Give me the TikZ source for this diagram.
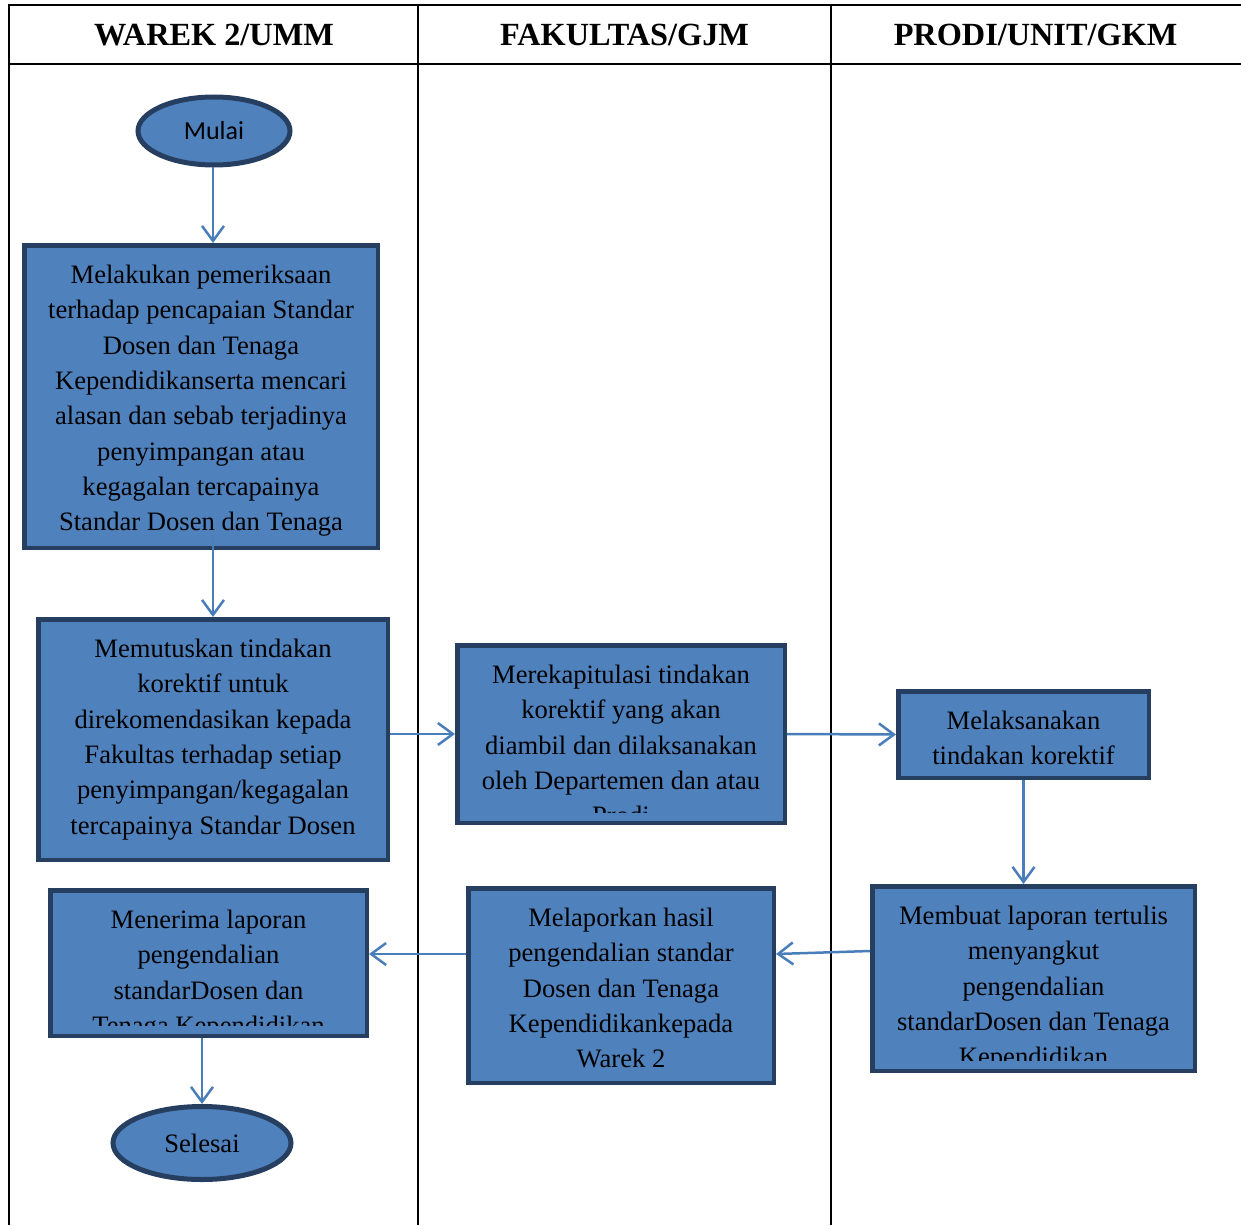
\documentclass[tikz,border=0pt]{standalone}
\usepackage{fontspec}
\setmainfont{Liberation Serif}
\newfontfamily\calibfont{Carlito}
\usetikzlibrary{arrows.meta,shapes.geometric}
\definecolor{boxfill}{RGB}{79,129,189}
\definecolor{boxline}{RGB}{38,62,96}
\definecolor{arrowcol}{RGB}{74,126,187}
\def\blw{4.5}
\tikzset{
  tableline/.style={line width=2.6pt, black},
  procbox/.style={rectangle, draw=boxline, fill=boxfill, line width=\blw pt, inner sep=0pt},
  proctext/.style={align=center, inner sep=0pt, font=\fontsize{26.6}{35.3}\selectfont},
  termnode/.style={ellipse, draw=boxline, fill=boxfill, line width=5pt, inner sep=0pt},
  headtext/.style={font=\fontsize{32.3}{36}\selectfont\bfseries, inner sep=0pt},
  flowarrow/.style={draw=arrowcol, line width=2.5pt, -{Straight Barb[length=15pt,width=22pt]}},
}
\newcommand\flowbox[6]{%
  \pgfmathsetmacro\bw{#4-#2-\blw}%
  \pgfmathsetmacro\bh{#5-#3-\blw}%
  \node[procbox, minimum width=\bw pt, minimum height=\bh pt] (#1) at ({(#2+#4)/2},{(#3+#5)/2}) {};
  \begin{scope}
    \clip (#2+5,#3+5) rectangle (#4-5,#5-13);
    \node[proctext, anchor=north] (#1t) at ({(#2+#4)/2},#3+22) {#6};
  \end{scope}}
\begin{document}
\begin{tikzpicture}[x=1pt,y=-1pt]
\useasboundingbox (0,0) rectangle (1241,1225);
% table
\draw[tableline] (8,5) -- (1241,5);
\draw[tableline] (8,64) -- (1241,64);
\draw[tableline] (9,5) -- (9,1225);
\draw[tableline] (418,5) -- (418,1225);
\draw[tableline] (831,5) -- (831,1225);
\node[headtext] (h1) at (214,35) {WAREK 2/UMM};
\node[headtext] (h2) at (624.5,35) {FAKULTAS/GJM};
\node[headtext] (h3) at (1035.5,35) {PRODI/UNIT/GKM};
% terminals
\node[termnode, minimum width=152pt, minimum height=68pt] (mulai) at (214,131) {\calibfont\fontsize{26}{30}\selectfont Mulai};
\node[termnode, minimum width=178pt, minimum height=73pt] (selesai) at (202,1143) {\fontsize{26.6}{30}\selectfont Selesai};
% boxes
\flowbox{b1}{22}{243}{380}{550}{Melakukan pemeriksaan\\terhadap pencapaian Standar\\Dosen dan Tenaga\\Kependidikanserta mencari\\alasan dan sebab terjadinya\\penyimpangan atau\\kegagalan tercapainya\\Standar Dosen dan Tenaga\\Kependidikan}
\flowbox{b2}{36}{617}{390}{862}{Memutuskan tindakan\\korektif untuk\\direkomendasikan kepada\\Fakultas terhadap setiap\\penyimpangan/kegagalan\\tercapainya Standar Dosen}
\flowbox{b3}{455}{643}{787}{825}{Merekapitulasi tindakan\\korektif yang akan\\diambil dan dilaksanakan\\oleh Departemen dan atau\\Prodi}
\flowbox{b4}{896}{689}{1151}{780}{Melaksanakan\\tindakan korektif}
\flowbox{b5}{870}{884}{1197}{1073}{Membuat laporan tertulis\\menyangkut\\pengendalian\\standarDosen dan Tenaga\\Kependidikan}
\flowbox{b6}{466}{886}{776}{1085}{Melaporkan hasil\\pengendalian standar\\Dosen dan Tenaga\\Kependidikankepada\\Warek 2}
\flowbox{b7}{48}{888}{369}{1038}{Menerima laporan\\pengendalian\\standarDosen dan\\Tenaga Kependidikan}
% connectors
\coordinate (m1) at ([xshift=-1pt]mulai.south);
\draw[flowarrow] (m1) -- (m1 |- b1.north);
\coordinate (s0) at (b2.north |- b1.south);
\coordinate (s1) at ([yshift=15pt]s0);
\draw[flowarrow] (s1) -- (b2.north);
\draw[flowarrow] (b2.east |- b3.west) -- (b3.west);
\draw[flowarrow] (b3.east) -- (b4.west);
\draw[flowarrow] (b4.south) -- (b4.south |- b5.north);
\coordinate (a5) at ([yshift=27.5pt]b5.west);
\coordinate (a6) at ([yshift=31.5pt]b6.east);
\draw[flowarrow] (a5) -- (a6);
\coordinate (a7) at ([yshift=31.5pt]b6.west);
\draw[flowarrow] (a7) -- (a7 -| b7.east);
\draw[flowarrow] (b7.south -| selesai.north) -- (selesai.north);
\end{tikzpicture}
\end{document}
